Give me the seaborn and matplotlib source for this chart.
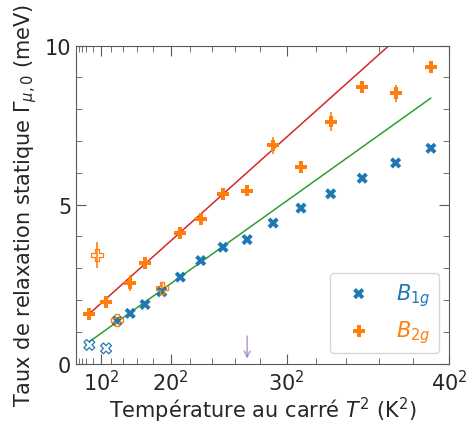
import matplotlib
matplotlib.use("Agg")
import numpy as np
import pandas as pd
import seaborn as sns
import matplotlib.pyplot as plt

# ---------------- data ----------------
# x values are T^2 (K^2)
b1g_T2 = [169, 225, 289, 361, 441, 529, 625, 729, 841, 961, 1089, 1225, 1369, 1521]
b1g_G = [1.35, 1.58, 1.86, 2.26, 2.72, 3.24, 3.66, 3.90, 4.42, 4.89, 5.34, 5.83, 6.31, 6.77]
b1g_err = [0.05, 0.05, 0.05, 0.06, 0.06, 0.06, 0.06, 0.07, 0.07, 0.07, 0.08, 0.08, 0.08, 0.09]

b2g_T2 = [49, 121, 225, 289, 441, 529, 625, 729, 841, 961, 1089, 1225, 1369, 1521]
b2g_G = [1.56, 1.93, 2.54, 3.16, 4.11, 4.55, 5.34, 5.44, 6.86, 6.18, 7.61, 8.69, 8.50, 9.32]
b2g_err = [0.10, 0.10, 0.26, 0.12, 0.10, 0.12, 0.12, 0.12, 0.26, 0.15, 0.29, 0.16, 0.26, 0.10]

# open (excluded) points
b1g_open_T2 = [49, 121]
b1g_open_G = [0.59, 0.48]
b2g_open_T2 = [81, 169, 361]
b2g_open_G = [3.42, 1.38, 2.37]
b2g_open_err = [0.40, 0.08, 0.15]

# linear fits (end points)
fit_T2 = [49, 1521]
fit_b2g = [1.57, 11.18]
fit_b1g = [0.69, 8.35]

# arrow marker
arrow_T2 = 729
arrow_G = [0.95, 0.07]

xtick_pos = [100, 400, 900, 1600]
xtick_lab = [r"$10^2$", r"$20^2$", r"$30^2$", r"$40^2$"]
xminor_pos = [4, 16, 36, 64, 144, 196, 256, 324, 484, 576, 676, 784,
              1024, 1156, 1296, 1444]
ytick_pos = [0, 5, 10]
yminor_pos = [1, 2, 3, 4, 6, 7, 8, 9]

labels = [r"$B_{1g}$", r"$B_{2g}$"]
blue = "#1f77b4"
orange = "#ff7f0e"
red = "#d62728"
green = "#2ca02c"
purple = "#9467bd"

# ---------------- figure ----------------
sns.set_style("ticks")
plt.rcParams["font.family"] = ["DejaVu Sans"]
plt.rcParams["mathtext.fontset"] = "dejavusans"

fig = plt.figure(figsize=(4.67, 4.27), dpi=100)
ax = fig.add_axes([0.163, 0.146, 0.799, 0.745])

df1 = pd.DataFrame({"T2": b1g_T2, "G": b1g_G})
df2 = pd.DataFrame({"T2": b2g_T2, "G": b2g_G})
dfit = pd.DataFrame({"T2": fit_T2, "b1": fit_b1g, "b2": fit_b2g})

# fit lines
sns.lineplot(data=dfit, x="T2", y="b2", color=red, lw=1.1, ax=ax, legend=False, zorder=1)
sns.lineplot(data=dfit, x="T2", y="b1", color=green, lw=1.1, ax=ax, legend=False, zorder=1)

# error bars
ax.errorbar(b1g_T2, b1g_G, yerr=b1g_err, fmt="none", ecolor=blue, elinewidth=1.2, zorder=2)
ax.errorbar(b2g_T2, b2g_G, yerr=b2g_err, fmt="none", ecolor=orange, elinewidth=1.2, zorder=2)
ax.errorbar(b2g_open_T2, b2g_open_G, yerr=b2g_open_err, fmt="none", ecolor=orange,
            elinewidth=1.2, zorder=2)

# filled markers
sns.scatterplot(data=df1, x="T2", y="G", marker="X", color=blue, s=64,
                edgecolor="none", ax=ax, label=labels[0], zorder=3)
sns.scatterplot(data=df2, x="T2", y="G", marker="P", color=orange, s=72,
                edgecolor="none", ax=ax, label=labels[1], zorder=3)

# open markers
ax.scatter(b1g_open_T2, b1g_open_G, marker="X", s=60, facecolors="none",
           edgecolors=blue, linewidths=0.9, zorder=3)
ax.scatter(b2g_open_T2, b2g_open_G, marker="P", s=70, facecolors="none",
           edgecolors=orange, linewidths=0.9, zorder=4)

# arrow
ax.annotate("", xy=(arrow_T2, arrow_G[1]), xytext=(arrow_T2, arrow_G[0]),
            arrowprops=dict(arrowstyle="->", color=purple, alpha=0.6, lw=1.2))

# axes
ax.set_xlim(-8, 1600)
ax.set_ylim(0, 10)
ax.set_xticks(xtick_pos)
ax.set_xticklabels(xtick_lab)
ax.set_xticks(xminor_pos, minor=True)
ax.set_yticks(ytick_pos)
ax.set_yticks(yminor_pos, minor=True)
ax.tick_params(which="both", direction="in", top=True, right=True,
               labelsize=15, color="0.35")
ax.tick_params(which="major", length=7)
ax.tick_params(which="minor", length=4)
for sp in ax.spines.values():
    sp.set_color("0.35")
    sp.set_visible(True)

ax.set_xlabel(r"Température au carré $T^2$ (K$^2$)", fontsize=15, labelpad=1)
ax.set_ylabel(r"Taux de relaxation statique $\Gamma_{\mu,0}$ (meV)", fontsize=15)

leg = ax.legend(loc="lower right", fontsize=15)
for t, c in zip(leg.get_texts(), [blue, orange]):
    t.set_color(c)

fig.savefig("out.png", dpi=100)
